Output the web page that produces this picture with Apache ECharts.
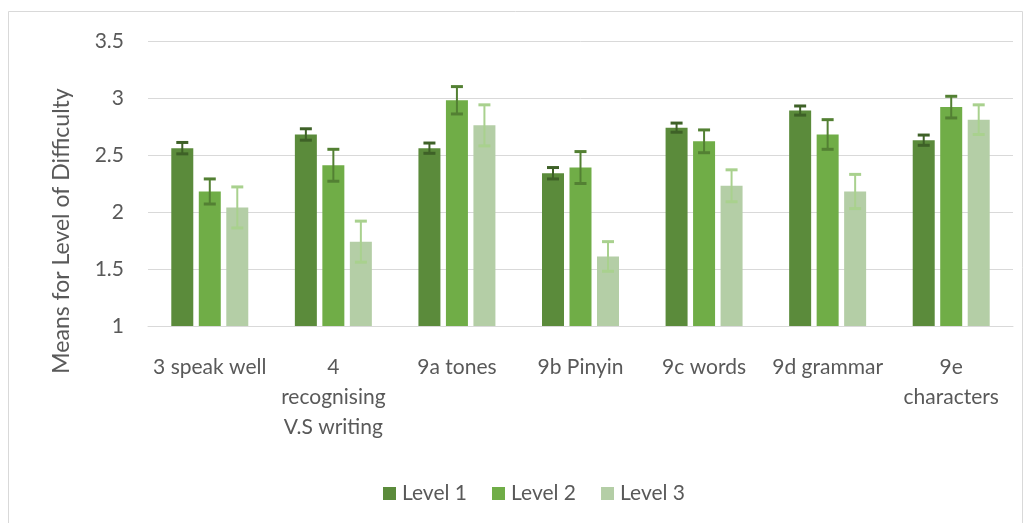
<!DOCTYPE html>
<html>
<head>
<meta charset="utf-8">
<script src="https://cdn.jsdelivr.net/npm/echarts@6/dist/echarts.min.js"></script>
<style>
html,body{margin:0;padding:0;background:#fff;}
#chart{width:1032px;height:523px;}
</style>
</head>
<body>
<div id="chart"></div>
<script>
var categories = ['3 speak well', '4\nrecognising\nV.S writing', '9a tones', '9b Pinyin', '9c words', '9d grammar', '9e\ncharacters'];
var seriesNames = ['Level 1', 'Level 2', 'Level 3'];
var level1 = [2.56, 2.68, 2.56, 2.34, 2.74, 2.89, 2.63];
var level1Err = [0.05, 0.05, 0.045, 0.05, 0.04, 0.04, 0.045];
var level2 = [2.18, 2.41, 2.98, 2.39, 2.62, 2.68, 2.92];
var level2Err = [0.11, 0.14, 0.12, 0.14, 0.10, 0.13, 0.095];
var level3 = [2.04, 1.74, 2.76, 1.61, 2.23, 2.18, 2.81];
var level3Err = [0.18, 0.18, 0.18, 0.13, 0.14, 0.15, 0.13];
var yTicks = [1, 1.5, 2, 2.5, 3, 3.5];
var yTitle = 'Means for Level of Difficulty';

var barColors = ['#5b8b3b', '#70ad47', '#b4cea6'];
var errColors = ['#3e6127', '#538033', '#a9d18e'];
var values = [level1, level2, level3];
var errs = [level1Err, level2Err, level3Err];

var BAR_FRAC = 0.178, GAP_FRAC = 0.25;
var FONT = 'Lato, "Liberation Sans", sans-serif';

function errSeries(k) {
  var data = values[k].map(function (v, i) { return [i, v - errs[k][i], v + errs[k][i]]; });
  return {
    type: 'custom',
    name: seriesNames[k],
    z: 10,
    silent: true,
    data: data,
    renderItem: function (params, api) {
      var band = api.size([1, 0])[0];
      var bw = band * BAR_FRAC;
      var off = (k - 1) * bw * (1 + GAP_FRAC);
      var lo = api.coord([api.value(0), api.value(1)]);
      var hi = api.coord([api.value(0), api.value(2)]);
      var x = lo[0] + off;
      var cw = 6;
      var style = { stroke: errColors[k], lineWidth: 3 };
      return {
        type: 'group',
        children: [
          { type: 'line', shape: { x1: x, y1: lo[1], x2: x, y2: hi[1] }, style: { stroke: errColors[k], lineWidth: 2 } },
          { type: 'line', shape: { x1: x - cw, y1: lo[1], x2: x + cw, y2: lo[1] }, style: style },
          { type: 'line', shape: { x1: x - cw, y1: hi[1], x2: x + cw, y2: hi[1] }, style: style }
        ]
      };
    }
  };
}

var series = [];
for (var k = 0; k < 3; k++) {
  series.push({
    type: 'bar',
    name: seriesNames[k],
    data: values[k],
    barWidth: (BAR_FRAC * 100) + '%',
    barGap: (GAP_FRAC * 100) + '%',
    itemStyle: { color: barColors[k] },
    silent: true
  });
}
for (var k2 = 0; k2 < 3; k2++) series.push(errSeries(k2));

var chart = echarts.init(document.getElementById('chart'));
chart.setOption({
  animation: false,
  backgroundColor: '#fff',
  textStyle: { fontFamily: FONT, color: '#595959' },
  graphic: [{
    type: 'rect',
    shape: { x: 8.5, y: 11.5, width: 1014, height: 530 },
    style: { fill: 'none', stroke: '#d9d9d9', lineWidth: 1 },
    silent: true
  }, {
    type: 'text',
    x: 62,
    y: 231,
    rotation: Math.PI / 2,
    style: {
      text: yTitle,
      fontSize: 23,
      fontFamily: FONT,
      fill: '#595959',
      align: 'center',
      verticalAlign: 'middle'
    },
    silent: true
  }],
  grid: { left: 148, right: 19, top: 41, bottom: 197 },
  legend: {
    data: seriesNames,
    top: 478,
    left: 378,
    icon: 'rect',
    itemWidth: 13,
    itemHeight: 13,
    itemGap: 25,
    textStyle: { fontFamily: FONT, fontSize: 21, color: '#595959', padding: [0, 0, 0, 1] }
  },
  xAxis: {
    type: 'category',
    data: categories,
    axisLine: { show: true, lineStyle: { color: '#d9d9d9', width: 1 } },
    axisTick: { show: false },
    axisLabel: { interval: 0, fontSize: 21, lineHeight: 30, color: '#595959', margin: 26, fontFamily: FONT }
  },
  yAxis: {
    type: 'value',
    min: yTicks[0],
    max: yTicks[yTicks.length - 1],
    interval: 0.5,
    axisLine: { show: false },
    axisTick: { show: false },
    splitLine: { lineStyle: { color: '#d9d9d9', width: 1 } },
    axisLabel: { fontSize: 21, color: '#595959', margin: 24, fontFamily: FONT }
  },
  series: series
});
</script>
</body>
</html>
